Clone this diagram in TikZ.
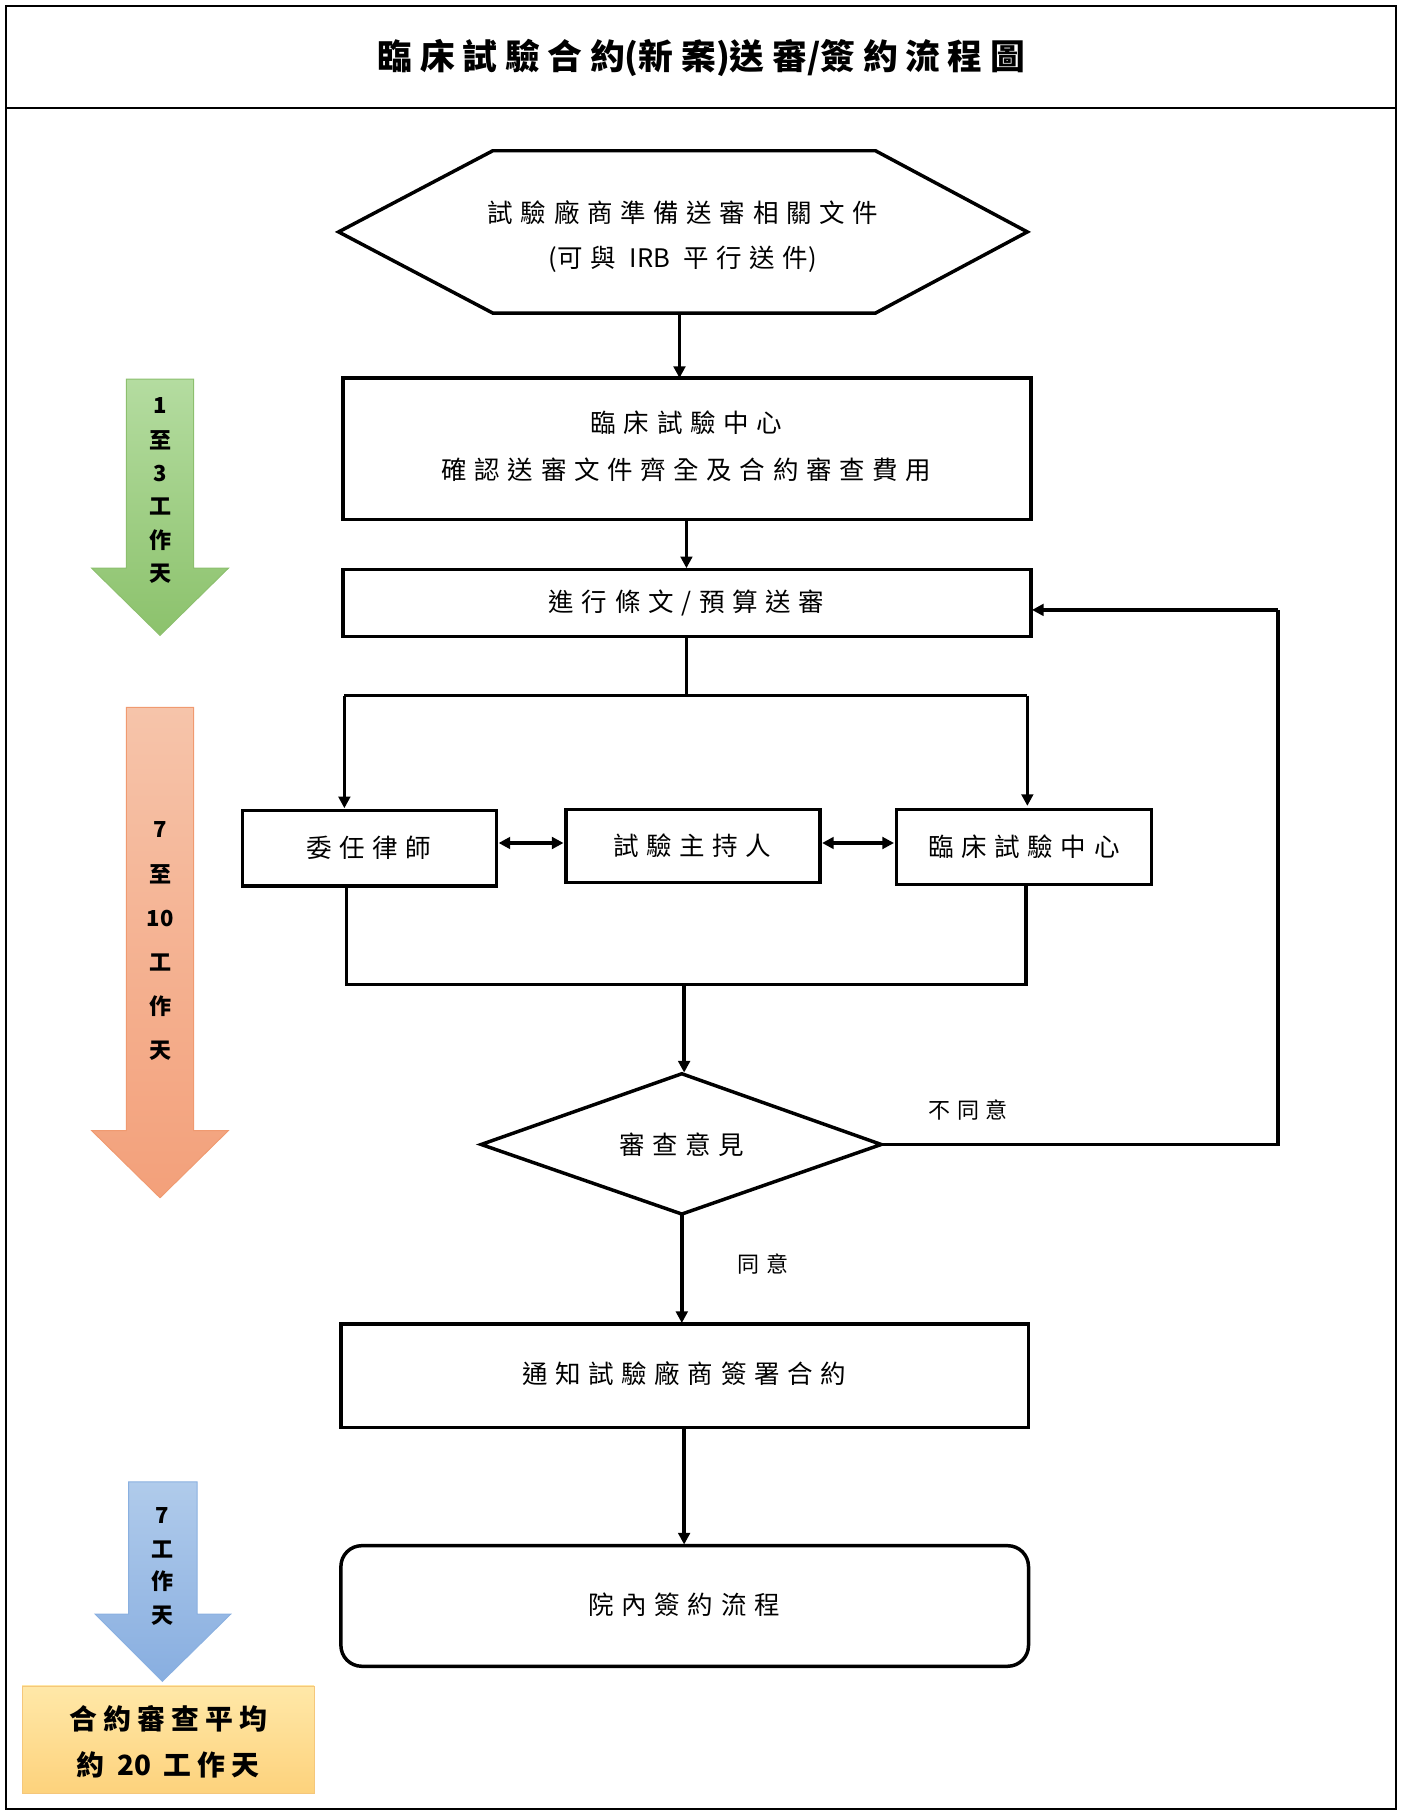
\documentclass[tikz,border=0pt]{standalone}
\usepackage{fontspec}
\setmainfont{Liberation Serif}
\newfontfamily\cjk{Noto Sans CJK TC}
\newfontfamily\cjks{Noto Sans CJK TC}[LetterSpace=30]
\newfontfamily\cjkt{Noto Sans CJK TC}[LetterSpace=22]
\usetikzlibrary{arrows.meta}
\definecolor{gtop}{HTML}{B4DCA0}\definecolor{gbot}{HTML}{8CC26C}\definecolor{gdr}{HTML}{8CBF6E}
\definecolor{otop}{HTML}{F6C4AA}\definecolor{obot}{HTML}{F3A07A}\definecolor{odr}{HTML}{F09A70}
\definecolor{btop}{HTML}{B0CBEB}\definecolor{bbot}{HTML}{88AEE0}\definecolor{bdr}{HTML}{8AB0E0}
\definecolor{ytop}{HTML}{FFE8A8}\definecolor{ybot}{HTML}{FDD27C}\definecolor{ydr}{HTML}{F5C77A}
\begin{document}
\begin{tikzpicture}[x=1pt,y=-1pt,
 box/.style={draw,line width=3pt},
 t/.style={font=\cjks\fontsize{22}{32}\selectfont,align=center},
 bt/.style={font=\cjk\bfseries\fontsize{19}{22}\selectfont,align=center},
 ar/.style={line width=3pt,-{Triangle[length=10pt,width=10pt]}},
 dar/.style={line width=3pt,{Triangle[length=10pt,width=10pt]}-{Triangle[length=10pt,width=10pt]}},
 ln/.style={line width=3pt}]
\useasboundingbox (0,0) rectangle (1210,1567);
\draw[line width=1.5pt] (5,5) rectangle (1204,1560);
\draw[line width=1.5pt] (5,93) -- (1204,93);
\node[font=\cjkt\bfseries\fontsize{30}{34}\selectfont] (title) at (605,50) {臨床試驗合約{\cjk(}新案{\cjk)}送審{\cjk/}簽約流程圖};
% hexagon
\draw[box] (292,200)--(425,130)--(755,130)--(886,200)--(755,270)--(425,270)--cycle;
\node[t] (hex) at (589,204) {試驗廠商準備送審相關文件\\[6pt]{\cjk(}可與 {\cjk IRB} 平行送件{\cjk)}};
\coordinate (hexb) at (586,270);
\draw[box] (296,326) rectangle (889,448);
\node[t,align=center] (b2) at (592,385) {臨床試驗中心\\[8pt]確認送審文件齊全及合約審查費用};
\coordinate (b2t) at (586,326);
\draw[ar] (hexb) -- (b2t);
\draw[box] (296,491) rectangle (889,549);
\node[t] (b3) at (592,520) {進行條文/預算送審};
\draw[ar] (592,448) -- (592,490);
\coordinate (split) at (592,600);
\draw[ln] (592,549) -- (split);
\draw[ln] (297,600) -- (886,600);
\draw[box] (209,699) rectangle (428,764); \node[t] (law) at (318,731) {委任律師};
\draw[box] (488,698) rectangle (707,761); \node[t] (pi) at (597,729) {試驗主持人};
\draw[box] (773,698) rectangle (993,763); \node[t] (ctc) at (883,730) {臨床試驗中心};
\draw[ar] (297,600) -- (297,697);
\draw[ar] (886,600) -- (886,695);
\draw[dar] (430,727) -- (486,727);
\draw[dar] (709,727) -- (771,727);
\draw[ln] (299,764) -- (299,849) -- (885,849) -- (885,763);
% diamond
\draw[box] (415,987)--(588,926)--(760,987)--(588,1047)--cycle;
\node[t] (dec) at (588,987) {審查意見};
\draw[ar] (590,849) -- (590,925);
\draw[ln] (760,987) -- (1102,987) -- (1102,526);
\draw[ar] (1102,526) -- (890,526);
\node[font=\cjks\fontsize{19}{22}\selectfont] (no) at (835,957) {不同意};
\draw[box] (294,1142) rectangle (887,1231);
\node[t] (notify) at (590,1185) {通知試驗廠商簽署合約};
\draw[ar] (588,1047) -- (588,1141);
\node[font=\cjks\fontsize{19}{22}\selectfont] (yes) at (658,1090) {同意};
\draw[box,rounded corners=18pt] (294,1333) rectangle (887,1437);
\node[t] (sign) at (590,1384) {院內簽約流程};
\draw[ar] (590,1231) -- (590,1332);
% side arrows
\draw[draw=gdr,top color=gtop,bottom color=gbot,line width=0.8pt]
 (109,327)--(167,327)--(167,490)--(197,490)--(138,548)--(79,490)--(109,490)--cycle;
\draw[draw=odr,top color=otop,bottom color=obot,line width=0.8pt]
 (109,610)--(167,610)--(167,975)--(197,975)--(138,1033)--(79,975)--(109,975)--cycle;
\draw[draw=bdr,top color=btop,bottom color=bbot,line width=0.8pt]
 (111,1278)--(170,1278)--(170,1392)--(199,1392)--(140,1450)--(82,1392)--(111,1392)--cycle;
\foreach \y/\s in {350/1,380/至,408/3,437/工,466/作,495/天} \node[bt] at (138,\y) {\s};
\foreach \y/\s in {715/7,754/至,792/10,830/工,868/作,906/天} \node[bt] at (138,\y) {\s};
\foreach \y/\s in {1307/7,1336/工,1364/作,1393/天} \node[bt] at (140,\y) {\s};
\draw[draw=ydr,top color=ytop,bottom color=ybot,line width=0.8pt] (19,1454) rectangle (271,1547);
\node[font=\cjkt\bfseries\fontsize{24}{40}\selectfont,align=center] (avg) at (145,1502) {合約審查平均\\約 {\cjk 20} 工作天};
\end{tikzpicture}
\end{document}
